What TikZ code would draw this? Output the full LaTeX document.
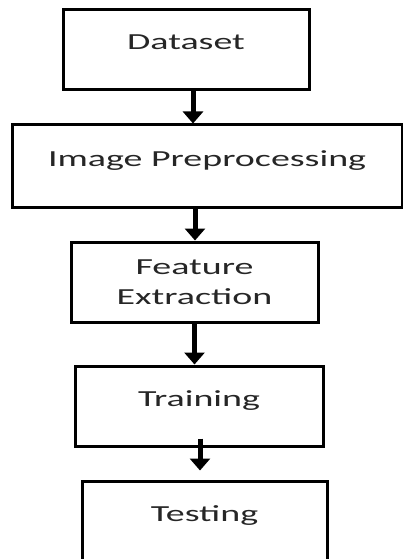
\documentclass[tikz,border=0pt]{standalone}
\usepackage{fontspec}
\usepackage{tikz}
\usetikzlibrary{arrows.meta}
\newfontfamily\stagefont[FakeStretch=1.65]{Carlito}

\begin{document}
\begin{tikzpicture}[x=1pt,y=1pt,
	stage/.style={draw,line width=3pt,minimum height=80pt,inner sep=0pt,font=\stagefont\fontsize{23}{30}\selectfont,text=black!85,align=center},
	oneline/.style={text height=15pt,text depth=15pt},
	flow/.style={line width=5pt,-{Triangle[width=20pt,length=12pt]}}]
	\useasboundingbox (0,0) rectangle (403,-559);

	\node [stage,oneline,minimum width=246pt](data) at (186,-49.5) {Dataset};
	\node [stage,oneline,minimum width=390pt,minimum height=82pt](prep) at (207,-166) {Image Preprocessing};
	\node [stage,minimum width=247pt](feat) at (194.5,-282) {Feature\\Extraction};
	\node [stage,oneline,minimum width=248pt](train) at (199,-406) {Training};
	\node [stage,oneline,minimum width=245pt](test) at (204.5,-521) {Testing};

	\draw [flow] ([xshift=7pt]data.south) to ([xshift=7pt]data.south |- prep.north);
	\draw [flow] ([xshift=-12pt]prep.south) to ([xshift=-12pt]prep.south |- feat.north);
	\draw [flow] (feat.south) to (feat.south |- train.north);
	\draw [flow] ([xshift=1pt,yshift=9pt]train.south) to ([xshift=1pt,yshift=9pt]train.south |- test.north);
\end{tikzpicture}
\end{document}
